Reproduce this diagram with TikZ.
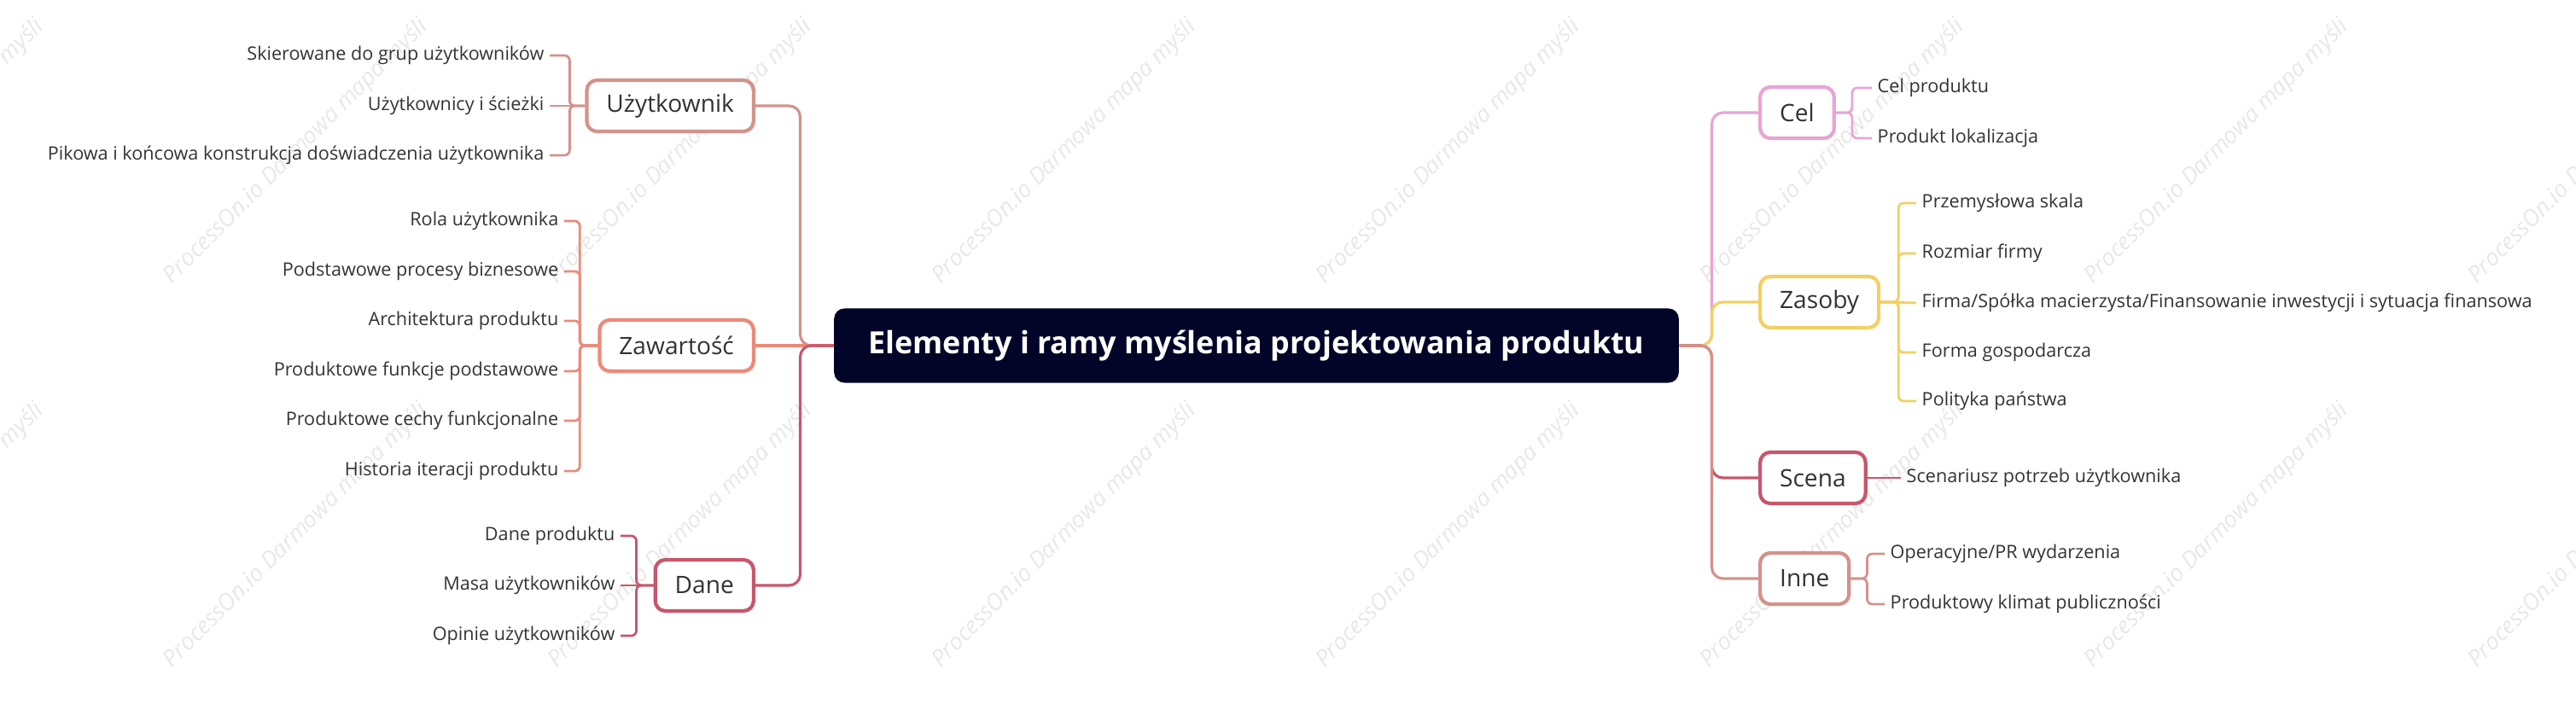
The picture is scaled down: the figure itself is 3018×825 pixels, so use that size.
\documentclass[tikz,border=0pt]{standalone}
\usepackage{fontspec}
\setmainfont{Open Sans}
\usetikzlibrary{positioning}
\definecolor{rootnavy}{RGB}{2, 4, 40}
\definecolor{textgray}{RGB}{51, 51, 51}
\definecolor{userbrown}{RGB}{212, 146, 138}
\definecolor{contsalmon}{RGB}{236, 138, 120}
\definecolor{dataraspberry}{RGB}{200, 86, 108}
\definecolor{celpink}{RGB}{232, 164, 212}
\definecolor{resyellow}{RGB}{242, 208, 98}
\definecolor{markgray}{RGB}{232, 232, 232}
\tikzset{
    % Central topic
    root box/.style={
        rectangle, rounded corners=0.12cm, fill=rootnavy, text=white,
        minimum width=9.89cm, minimum height=0.87cm,
        font=\fontsize{10.2}{12}\selectfont\bfseries
    },
    % Main branches
    branch box/.style={
        rectangle, rounded corners=0.12cm, draw=#1, line width=1.2pt,
        fill=white, text=textgray, minimum height=0.6cm, inner xsep=0.23cm,
        font=\fontsize{8}{10}\selectfont
    },
    % Leaf labels
    leaf/.style={
        text=textgray, inner xsep=0.06cm, inner ysep=0pt,
        font=\fontsize{6.15}{8}\selectfont
    },
    % Connectors
    trunk line/.style={draw=#1, line width=0.9pt, rounded corners=0.13cm},
    twig line/.style={draw=#1, line width=0.8pt, rounded corners=0.06cm},
    % Background watermark
    watermark/.style={
        text=markgray, rotate=45, font=\fontsize{7.7}{9}\selectfont\itshape
    }
}

\begin{document}
\begin{tikzpicture}[x=0.01cm, y=-0.01cm]

    \useasboundingbox (0, 0) rectangle (3018, 825);

    % Watermark grid
    \foreach \wx in {-103, 347, 797, 1247, 1697, 2147, 2597, 3047}
        \foreach \wy in {178, 628}
            \node[watermark] (wm-\wx-\wy) at (\wx, \wy) {ProcessOn.io Darmowa mapa myśli};

    % ======== CENTRAL TOPIC ========
    \node[root box] (root) at (1472, 405) {Elementy i ramy myślenia projektowania produktu};

    % ======== LEFT BRANCHES ========
    \node[branch box=userbrown, anchor=east] (user) at (885, 124) {Użytkownik};
    \node[branch box=contsalmon, anchor=east] (cont) at (885, 405) {Zawartość};
    \node[branch box=dataraspberry, anchor=east] (data) at (885, 686) {Dane};

    % Użytkownik leaves
    \node[leaf, anchor=east] (u1) at (644, 65) {Skierowane do grup użytkowników};
    \node[leaf, anchor=east] (u2) at (644, 124) {Użytkownicy i ścieżki};
    \node[leaf, anchor=east] (u3) at (644, 182) {Pikowa i końcowa konstrukcja doświadczenia użytkownika};

    % Zawartość leaves
    \node[leaf, anchor=east] (c1) at (661, 259) {Rola użytkownika};
    \node[leaf, anchor=east] (c2) at (661, 318) {Podstawowe procesy biznesowe};
    \node[leaf, anchor=east] (c3) at (661, 376) {Architektura produktu};
    \node[leaf, anchor=east] (c4) at (661, 435) {Produktowe funkcje podstawowe};
    \node[leaf, anchor=east] (c5) at (661, 493) {Produktowe cechy funkcjonalne};
    \node[leaf, anchor=east] (c6) at (661, 552) {Historia iteracji produktu};

    % Dane leaves
    \node[leaf, anchor=east] (d1) at (727, 628) {Dane produktu};
    \node[leaf, anchor=east] (d2) at (727, 686) {Masa użytkowników};
    \node[leaf, anchor=east] (d3) at (727, 745) {Opinie użytkowników};

    % ======== RIGHT BRANCHES ========
    \node[branch box=celpink, anchor=west] (cel) at (2060, 132) {Cel};
    \node[branch box=resyellow, anchor=west] (res) at (2060, 354) {Zasoby};
    \node[branch box=dataraspberry, anchor=west] (scene) at (2060, 560) {Scena};
    \node[branch box=userbrown, anchor=west] (other) at (2060, 678) {Inne};

    % Cel leaves
    \node[leaf, anchor=west] (p1) at (2193, 103) {Cel produktu};
    \node[leaf, anchor=west] (p2) at (2193, 162) {Produkt lokalizacja};

    % Zasoby leaves
    \node[leaf, anchor=west] (r1) at (2245, 238) {Przemysłowa skala};
    \node[leaf, anchor=west] (r2) at (2245, 297) {Rozmiar firmy};
    \node[leaf, anchor=west] (r3) at (2245, 355) {Firma/Spółka macierzysta/Finansowanie inwestycji i sytuacja finansowa};
    \node[leaf, anchor=west] (r4) at (2245, 413) {Forma gospodarcza};
    \node[leaf, anchor=west] (r5) at (2245, 470) {Polityka państwa};

    % Scena leaf
    \node[leaf, anchor=west] (s1) at (2227, 560) {Scenariusz potrzeb użytkownika};

    % Inne leaves
    \node[leaf, anchor=west] (o1) at (2208, 649) {Operacyjne/PR wydarzenia};
    \node[leaf, anchor=west] (o2) at (2208, 708) {Produktowy klimat publiczności};

    % ======== CONNECTORS ========
    % Left trunk
    \draw[trunk line=userbrown] (root.west) -- ++(-39, 0) |- (user.east);
    \draw[trunk line=contsalmon] (root.west) -- (cont.east);
    \draw[trunk line=dataraspberry] (root.west) -- ++(-39, 0) |- (data.east);

    % Right trunk
    \draw[trunk line=celpink] (root.east) -- ++(38, 0) |- (cel.west);
    \draw[trunk line=resyellow] (root.east) -- ++(38, 0) |- (res.west);
    \draw[trunk line=dataraspberry] (root.east) -- ++(38, 0) |- (scene.west);
    \draw[trunk line=userbrown] (root.east) -- ++(38, 0) |- (other.west);

    % Left twigs
    \draw[twig line=userbrown] (user.west) -- ++(-18, 0) |- (u1.east);
    \draw[twig line=userbrown] (user.west) -- (u2.east);
    \draw[twig line=userbrown] (user.west) -- ++(-18, 0) |- (u3.east);

    \draw[twig line=contsalmon] (cont.west) -- ++(-21, 0) |- (c1.east);
    \draw[twig line=contsalmon] (cont.west) -- ++(-21, 0) |- (c2.east);
    \draw[twig line=contsalmon] (cont.west) -- ++(-21, 0) |- (c3.east);
    \draw[twig line=contsalmon] (cont.west) -- ++(-21, 0) |- (c4.east);
    \draw[twig line=contsalmon] (cont.west) -- ++(-21, 0) |- (c5.east);
    \draw[twig line=contsalmon] (cont.west) -- ++(-21, 0) |- (c6.east);

    \draw[twig line=dataraspberry] (data.west) -- ++(-20, 0) |- (d1.east);
    \draw[twig line=dataraspberry] (data.west) -- (d2.east);
    \draw[twig line=dataraspberry] (data.west) -- ++(-20, 0) |- (d3.east);

    % Right twigs
    \draw[twig line=celpink] (cel.east) -- ++(19, 0) |- (p1.west);
    \draw[twig line=celpink] (cel.east) -- ++(19, 0) |- (p2.west);

    \draw[twig line=resyellow] (res.east) -- ++(21, 0) |- (r1.west);
    \draw[twig line=resyellow] (res.east) -- ++(21, 0) |- (r2.west);
    \draw[twig line=resyellow] (res.east) -- (r3.west);
    \draw[twig line=resyellow] (res.east) -- ++(21, 0) |- (r4.west);
    \draw[twig line=resyellow] (res.east) -- ++(21, 0) |- (r5.west);

    \draw[twig line=dataraspberry] (scene.east) -- (s1.west);

    \draw[twig line=userbrown] (other.east) -- ++(19, 0) |- (o1.west);
    \draw[twig line=userbrown] (other.east) -- ++(19, 0) |- (o2.west);

\end{tikzpicture}
\end{document}
